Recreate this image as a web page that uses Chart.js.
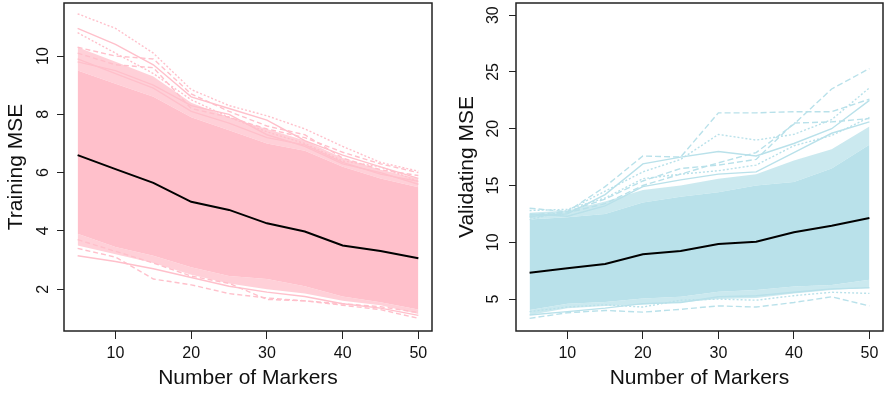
<!DOCTYPE html>
<html>
<head>
<meta charset="utf-8">
<script src="https://cdn.jsdelivr.net/npm/chart.js@4/dist/chart.umd.min.js"></script>
<style>
  html, body { margin: 0; padding: 0; background: #fff; }
  #wrap { position: relative; width: 885px; height: 393px; overflow: hidden; }
  canvas { position: absolute; top: 0; }
  #c1 { left: 0; }
  #c2 { left: 442px; }
</style>
</head>
<body>
<div id="wrap">
  <canvas id="c1" width="442" height="393"></canvas>
  <canvas id="c2" width="443" height="393"></canvas>
</div>
<script>
// ---------- data ----------
const markers = [5, 10, 15, 20, 25, 30, 35, 40, 45, 50];
const xTicks = [10, 20, 30, 40, 50];
const trainYTicks = [2, 4, 6, 8, 10];
const validYTicks = [5, 10, 15, 20, 25, 30];

// Training MSE panel
const trainMean        = [6.60, 6.12, 5.65, 5.00, 4.72, 4.26, 3.98, 3.50, 3.31, 3.06];
const trainDenseTop    = [9.50, 9.05, 8.60, 7.90, 7.45, 7.00, 6.75, 6.20, 5.80, 5.50];
const trainSparseTop   = [10.3, 9.80, 9.30, 8.40, 7.90, 7.50, 7.10, 6.50, 6.10, 5.80];
const trainDenseBottom = [3.90, 3.45, 3.15, 2.75, 2.45, 2.35, 2.10, 1.75, 1.55, 1.30];
const trainSparseBottom= [3.50, 3.20, 2.90, 2.50, 2.20, 2.00, 1.85, 1.60, 1.45, 1.15];
const trainRun1  = [11.45, 10.95, 10.1, 8.85, 8.30, 7.95, 7.50, 6.90, 6.35, 6.05];
const trainRun2  = [10.95, 10.4, 9.70, 8.60, 8.20, 7.80, 7.10, 6.60, 6.20, 5.80];
const trainRun3  = [10.3, 10.0, 9.90, 8.70, 8.10, 7.60, 7.30, 6.50, 6.10, 5.90];
const trainRun4  = [9.80, 9.50, 9.00, 8.30, 8.00, 7.30, 6.90, 6.30, 6.00, 5.60];
const trainRun5  = [10.8, 10.1, 9.40, 8.50, 7.90, 7.40, 7.00, 6.40, 6.20, 5.70];
const trainRun9  = [10.1, 9.70, 9.60, 8.20, 7.90, 7.50, 7.20, 6.70, 6.30, 6.00];
const trainRun10 = [9.90, 9.40, 8.90, 8.10, 7.70, 7.20, 6.95, 6.35, 5.95, 5.70];
const trainRun6  = [3.40, 3.10, 2.35, 2.15, 1.85, 1.70, 1.60, 1.45, 1.30, 1.00];
const trainRun7  = [3.15, 2.95, 2.70, 2.40, 2.10, 1.90, 1.75, 1.50, 1.35, 1.10];
const trainRun8  = [3.70, 3.30, 2.90, 2.45, 2.20, 1.65, 1.60, 1.50, 1.40, 1.20];

// Validating MSE panel
const validMean        = [7.32, 7.71, 8.09, 8.94, 9.23, 9.85, 10.05, 10.88, 11.46, 12.14];
const validDenseTop    = [12.0, 12.2, 12.5, 13.5, 14.0, 14.4, 15.0, 15.3, 16.5, 18.6];
const validSparseTop   = [12.6, 12.8, 13.6, 14.6, 15.0, 15.6, 16.0, 17.2, 18.2, 20.2];
const validDenseBottom = [4.05, 4.60, 4.75, 5.05, 5.20, 5.65, 5.80, 6.10, 6.25, 6.70];
const validSparseBottom= [3.60, 4.20, 4.40, 4.50, 4.70, 5.00, 5.10, 5.50, 5.80, 6.00];
const validRun1  = [12.4, 12.7, 14.9, 17.6, 17.5, 21.4, 21.4, 21.5, 21.5, 22.6];
const validRun2  = [12.2, 12.6, 13.4, 15.0, 16.0, 17.0, 17.9, 20.4, 23.5, 25.3];
const validRun3  = [12.0, 12.8, 14.5, 16.2, 17.3, 19.5, 19.0, 19.5, 20.8, 23.6];
const validRun4  = [12.3, 12.5, 14.2, 16.9, 17.5, 18.0, 17.6, 18.7, 20.0, 22.5];
const validRun5  = [13.0, 12.7, 13.8, 15.4, 16.5, 16.8, 17.3, 20.5, 20.6, 20.9];
const validRun9  = [12.8, 12.9, 13.9, 15.6, 16.0, 16.3, 16.8, 18.5, 19.4, 21.0];
const validRun10 = [12.5, 12.3, 13.2, 14.9, 15.5, 16.0, 16.2, 17.9, 19.6, 20.6];
const validRun6  = [3.30, 3.80, 4.00, 3.85, 4.10, 4.40, 4.30, 4.70, 5.20, 4.40];
const validRun7  = [3.60, 3.90, 4.20, 4.60, 4.70, 5.20, 5.30, 5.60, 5.90, 6.00];
const validRun8  = [3.90, 4.30, 4.50, 4.30, 4.90, 5.00, 4.90, 5.30, 5.60, 5.50];

// ---------- chart building ----------
Chart.defaults.font.family = "'Liberation Sans', Arial, Helvetica, sans-serif";
Chart.defaults.color = '#111';

const pts = arr => markers.map((m, i) => ({ x: m, y: arr[i] }));

const boxPlugin = {
  id: 'rbox',
  afterDraw(chart) {
    const a = chart.chartArea, ctx = chart.ctx;
    ctx.save();
    ctx.strokeStyle = '#222';
    ctx.lineWidth = 1.5;
    ctx.strokeRect(a.left, a.top, a.right - a.left, a.bottom - a.top);
    ctx.restore();
  }
};

function makePanel(id, p) {
  const ds = [];
  ds.push({ data: pts(p.mean), borderColor: '#000', borderWidth: 2, order: 0, fill: false });
  p.runs.forEach(r => ds.push({ data: pts(r.v), borderColor: p.line, borderWidth: 1.4, borderDash: r.dash, order: 1, fill: false }));
  const iDT = ds.length;
  ds.push({ data: pts(p.denseTop), borderColor: 'transparent', borderWidth: 1, backgroundColor: p.fill, order: 3, fill: { target: iDT + 1 } });
  ds.push({ data: pts(p.denseBottom), borderColor: 'transparent', borderWidth: 1, order: 3, fill: false });
  ds.push({ data: pts(p.sparseTop), borderColor: 'transparent', borderWidth: 1, backgroundColor: p.fillSoft, order: 2, fill: { target: iDT } });
  ds.push({ data: pts(p.sparseBottom), borderColor: 'transparent', borderWidth: 1, backgroundColor: p.fillSoft, order: 2, fill: { target: iDT + 1 } });

  return new Chart(document.getElementById(id), {
    type: 'line',
    data: { datasets: ds },
    options: {
      responsive: false,
      animation: false,
      events: [],
      elements: { point: { radius: 0 }, line: { tension: 0 } },
      layout: { padding: { top: 3, right: p.padRight, left: 0, bottom: 0 } },
      plugins: { legend: { display: false }, tooltip: { enabled: false } },
      scales: {
        x: {
          type: 'linear', min: 3.2, max: 51.8,
          afterBuildTicks: s => { s.ticks = xTicks.map(v => ({ value: v })); },
          afterFit: s => { s.height = 62; s.paddingLeft = 0; s.paddingRight = 0; },
          ticks: { font: { size: 16 }, color: '#111', padding: 5, maxRotation: 0, minRotation: 0 },
          grid: { display: true, drawOnChartArea: false, drawTicks: true, tickLength: 8, color: '#222', lineWidth: 1 },
          border: { display: false },
          title: { display: true, text: 'Number of Markers', font: { size: 21 }, color: '#111', padding: { top: 0, bottom: 2 } }
        },
        y: {
          type: 'linear', min: p.yMin, max: p.yMax,
          afterBuildTicks: s => { s.ticks = p.yTicks.map(v => ({ value: v })); },
          afterFit: s => { s.width = p.axisW; s.paddingTop = 0; s.paddingBottom = 0; },
          ticks: { font: { size: 16 }, color: '#111', padding: p.tickPad, minRotation: 90, maxRotation: 90, crossAlign: 'center' },
          grid: { display: true, drawOnChartArea: false, drawTicks: true, tickLength: 7, color: '#222', lineWidth: 1 },
          border: { display: false },
          title: { display: true, text: p.title, font: { size: 21 }, color: '#111', padding: { top: p.titlePad, bottom: 0 } }
        }
      }
    },
    plugins: [boxPlugin]
  });
}

makePanel('c1', {
  mean: trainMean, denseTop: trainDenseTop, denseBottom: trainDenseBottom,
  sparseTop: trainSparseTop, sparseBottom: trainSparseBottom,
  runs: [
    { v: trainRun1, dash: [2, 2] }, { v: trainRun2, dash: [] }, { v: trainRun3, dash: [5, 3] },
    { v: trainRun4, dash: [] }, { v: trainRun5, dash: [2, 2] }, { v: trainRun9, dash: [5, 3] },
    { v: trainRun10, dash: [] },
    { v: trainRun6, dash: [5, 3] }, { v: trainRun7, dash: [] }, { v: trainRun8, dash: [5, 3] }
  ],
  line: '#ffc0cb', fill: '#ffc0cb', fillSoft: 'rgba(255,192,203,0.75)',
  yMin: 0.566, yMax: 11.82, yTicks: trainYTicks, title: 'Training MSE',
  axisW: 64, tickPad: 5, titlePad: 4, padRight: 10
});

makePanel('c2', {
  mean: validMean, denseTop: validDenseTop, denseBottom: validDenseBottom,
  sparseTop: validSparseTop, sparseBottom: validSparseBottom,
  runs: [
    { v: validRun1, dash: [6, 3] }, { v: validRun2, dash: [6, 3] }, { v: validRun3, dash: [2, 2] },
    { v: validRun4, dash: [] }, { v: validRun5, dash: [6, 3] }, { v: validRun9, dash: [2, 2] },
    { v: validRun10, dash: [] },
    { v: validRun6, dash: [6, 3] }, { v: validRun7, dash: [] }, { v: validRun8, dash: [2, 2] }
  ],
  line: '#b9e1ea', fill: '#b9e1ea', fillSoft: 'rgba(185,225,234,0.75)',
  yMin: 2.19, yMax: 31.07, yTicks: validYTicks, title: 'Validating MSE',
  axisW: 74, tickPad: 7, titlePad: 13, padRight: 2
});
</script>
</body>
</html>
